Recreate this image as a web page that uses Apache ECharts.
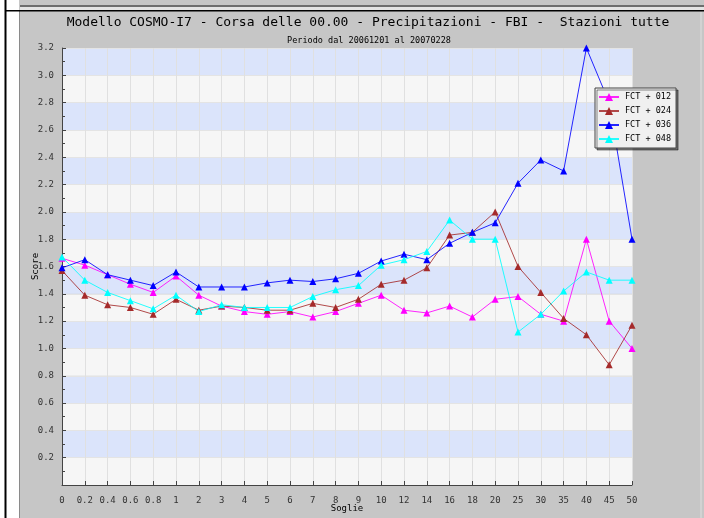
<!DOCTYPE html>
<html>
<head>
<meta charset="utf-8">
<script src="https://cdn.jsdelivr.net/npm/echarts@6/dist/echarts.min.js"></script>
<style>
  html, body { margin: 0; padding: 0; }
  #chart { width: 704px; height: 518px; }
</style>
</head>
<body>
<div id="chart"></div>
<script>
  // soglie (categorie asse x)
  var soglie = ['0', '0.2', '0.4', '0.6', '0.8', '1', '2', '3', '4', '5', '6', '7', '8', '9',
                '10', '12', '14', '16', '18', '20', '25', '30', '35', '40', '45', '50'];

  var fct012 = [1.66, 1.61, 1.54, 1.47, 1.41, 1.53, 1.39, 1.31, 1.27, 1.25, 1.27, 1.23, 1.27, 1.33,
                1.39, 1.28, 1.26, 1.31, 1.23, 1.36, 1.38, 1.25, 1.20, 1.80, 1.20, 1.00];
  var fct024 = [1.57, 1.39, 1.32, 1.30, 1.25, 1.36, 1.28, 1.31, 1.30, 1.28, 1.28, 1.33, 1.30, 1.36,
                1.47, 1.50, 1.59, 1.83, 1.85, 2.00, 1.60, 1.41, 1.22, 1.10, 0.88, 1.17];
  var fct036 = [1.59, 1.65, 1.54, 1.50, 1.46, 1.56, 1.45, 1.45, 1.45, 1.48, 1.50, 1.49, 1.51, 1.55,
                1.64, 1.69, 1.65, 1.77, 1.85, 1.92, 2.21, 2.38, 2.30, 3.20, 2.80, 1.80];
  var fct048 = [1.67, 1.50, 1.41, 1.35, 1.29, 1.39, 1.27, 1.32, 1.30, 1.30, 1.30, 1.38, 1.43, 1.46,
                1.61, 1.65, 1.71, 1.94, 1.80, 1.80, 1.12, 1.25, 1.42, 1.56, 1.50, 1.50];

  var nomi = ['FCT + 012', 'FCT + 024', 'FCT + 036', 'FCT + 048'];
  var colori = ['#ff00ff', '#a52a2a', '#0000ff', '#00ffff'];
  var valori = [fct012, fct024, fct036, fct048];

  var mono = 'DejaVu Sans Mono';

  var chart = echarts.init(document.getElementById('chart'));

  var series = [];
  for (var i = 0; i < valori.length; i++) {
    series.push({
      name: nomi[i],
      type: 'line',
      data: valori[i],
      symbol: 'triangle',
      symbolSize: 7,
      itemStyle: { color: colori[i] },
      lineStyle: { color: colori[i], width: 1, opacity: 0.85 },
      emphasis: { disabled: true }
    });
  }

  var option = {
    backgroundColor: '#c6c6c6',
    animation: false,
    graphic: [
      { type: 'rect', shape: { x: 0, y: 0, width: 19, height: 518 }, style: { fill: '#ffffff' }, z: -10 },
      { type: 'rect', shape: { x: 4.5, y: 0, width: 2, height: 518 }, style: { fill: '#000000' }, z: -9 },
      { type: 'rect', shape: { x: 19, y: 11, width: 1, height: 507 }, style: { fill: '#8a8a8a' }, z: -9 },
      { type: 'rect', shape: { x: 20, y: 5, width: 684, height: 2 }, style: { fill: '#6e6e6e' }, z: -9 },
      { type: 'rect', shape: { x: 20, y: 7, width: 684, height: 3 }, style: { fill: '#e4e4e4' }, z: -9 },
      { type: 'rect', shape: { x: 5, y: 10, width: 699, height: 1.5 }, style: { fill: '#000000' }, z: -8 },
      { type: 'rect', shape: { x: 700.5, y: 12, width: 1, height: 506 }, style: { fill: '#dedede' }, z: -9 }
    ],
    title: [
      {
        text: 'Modello COSMO-I7 - Corsa delle 00.00 - Precipitazioni - FBI -  Stazioni tutte',
        left: 363, top: 11, textAlign: 'center',
        textStyle: { fontFamily: mono, fontSize: 13, fontWeight: 'normal', color: '#000' }
      },
      {
        text: 'Periodo dal 20061201 al 20070228',
        left: 364, top: 31, textAlign: 'center',
        textStyle: { fontFamily: mono, fontSize: 8.5, fontWeight: 'normal', color: '#000' }
      }
    ],
    legend: {
      orient: 'vertical',
      left: 595, top: 88,
      data: nomi,
      backgroundColor: '#f0f0f0',
      borderColor: '#444',
      borderWidth: 1,
      padding: [4, 5, 4, 3],
      itemGap: 4,
      itemWidth: 20,
      itemHeight: 10,
      shadowColor: 'rgba(0,0,0,0.45)',
      shadowOffsetX: 2,
      shadowOffsetY: 2,
      shadowBlur: 0,
      textStyle: { fontFamily: mono, fontSize: 8.5, color: '#000', padding: [0, 0, 0, 1], lineHeight: 10 }
    },
    grid: { left: 62, right: 72, top: 48, bottom: 31 },
    xAxis: {
      type: 'category',
      data: soglie,
      boundaryGap: false,
      name: 'Soglie',
      nameLocation: 'middle',
      nameGap: 19,
      nameMoveOverlap: false,
      nameTextStyle: { fontFamily: mono, fontSize: 9, color: '#000' },
      axisLine: { lineStyle: { color: '#444', width: 1 } },
      axisTick: { inside: true, length: 4, alignWithLabel: true, lineStyle: { color: '#444' } },
      axisLabel: { interval: 0, fontFamily: mono, fontSize: 9, color: '#333', margin: 11 },
      splitLine: { show: true, interval: 0, lineStyle: { color: '#e0e0e0', width: 1 } }
    },
    yAxis: {
      type: 'value',
      min: 0, max: 3.2, interval: 0.2,
      name: 'Score',
      nameLocation: 'middle',
      nameGap: 22,
      nameMoveOverlap: false,
      nameTextStyle: { fontFamily: mono, fontSize: 9, color: '#000' },
      axisLine: { show: true, lineStyle: { color: '#444', width: 1 } },
      axisTick: { show: true, inside: true, length: 4, lineStyle: { color: '#444' } },
      minorTick: { show: true, splitNumber: 2, length: 3, lineStyle: { color: '#444' } },
      axisLabel: {
        fontFamily: mono, fontSize: 9, color: '#333', margin: 8,
        formatter: function (v) { return v === 0 ? '' : v.toFixed(1); }
      },
      splitLine: { show: true, lineStyle: { color: '#e4e4e4', width: 1 } },
      splitArea: { show: true, areaStyle: { color: ['#f6f6f6', '#dbe4fb'] } }
    },
    series: series
  };

  chart.setOption(option);
</script>
</body>
</html>
